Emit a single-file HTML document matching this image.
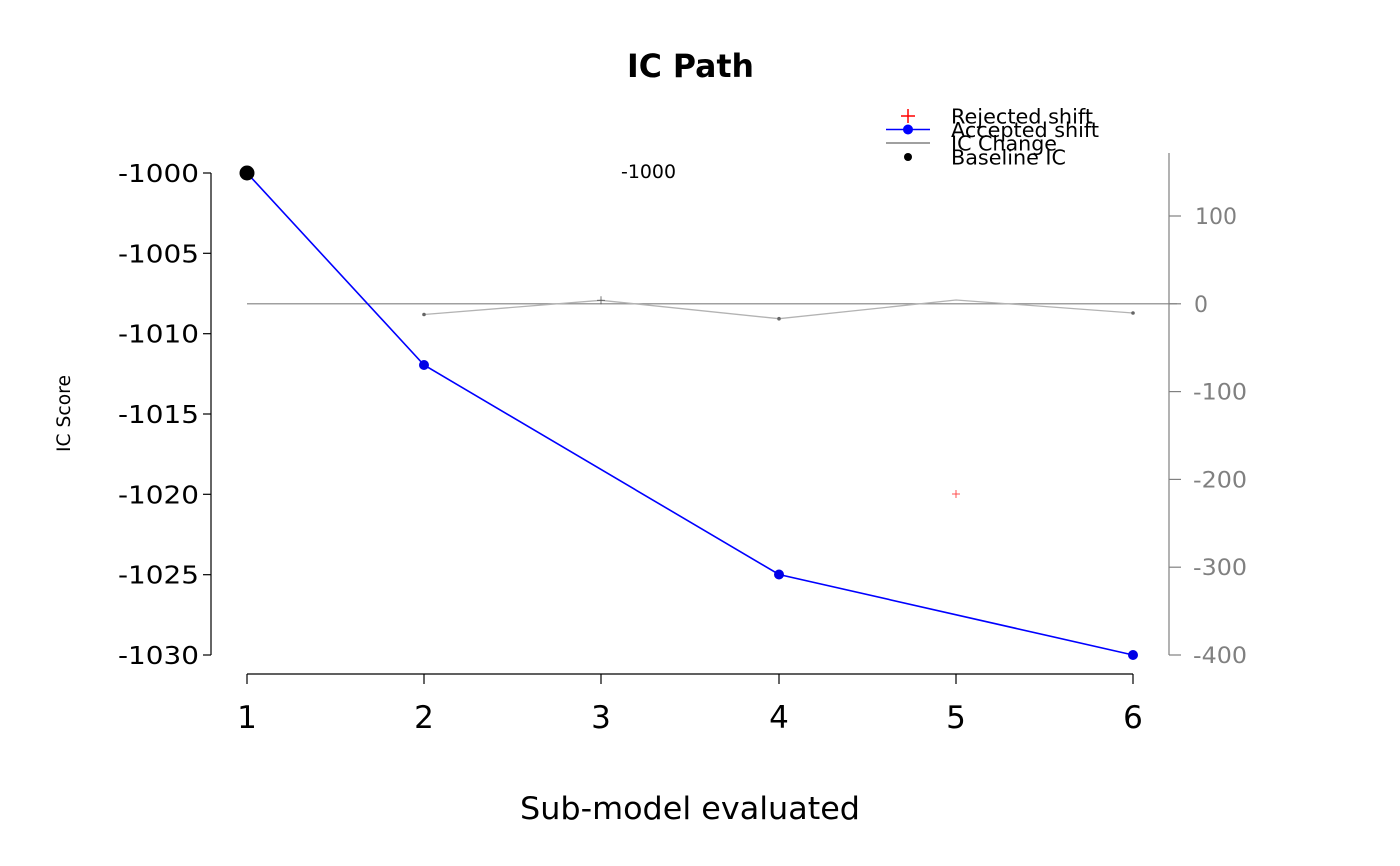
<!DOCTYPE html>
<html><head><meta charset="utf-8"><style>
html,body{margin:0;padding:0;background:#fff}
svg{display:block;font-family:"DejaVu Sans","Liberation Sans",sans-serif}
</style></head><body>
<svg width="1400" height="866" viewBox="0 0 1400 866" xmlns="http://www.w3.org/2000/svg">
<rect width="1400" height="866" fill="#fff"/>
<text x="627" y="77" font-size="32" font-weight="bold" textLength="127" lengthAdjust="spacingAndGlyphs">IC Path</text>
<!-- left axis -->
<line x1="211" y1="173" x2="211" y2="655" stroke="#000" stroke-width="1.2"/>
<g stroke="#000" stroke-width="1.2">
<line x1="203" y1="173" x2="211" y2="173"/><line x1="203" y1="253.3" x2="211" y2="253.3"/>
<line x1="203" y1="333.7" x2="211" y2="333.7"/><line x1="203" y1="414" x2="211" y2="414"/>
<line x1="203" y1="494.3" x2="211" y2="494.3"/><line x1="203" y1="574.7" x2="211" y2="574.7"/>
<line x1="203" y1="655" x2="211" y2="655"/>
</g>
<g font-size="25">
<text x="118" y="182" textLength="81" lengthAdjust="spacingAndGlyphs">-1000</text>
<text x="118" y="262.3" textLength="81" lengthAdjust="spacingAndGlyphs">-1005</text>
<text x="118" y="342.7" textLength="81" lengthAdjust="spacingAndGlyphs">-1010</text>
<text x="118" y="423" textLength="81" lengthAdjust="spacingAndGlyphs">-1015</text>
<text x="118" y="503.3" textLength="81" lengthAdjust="spacingAndGlyphs">-1020</text>
<text x="118" y="583.7" textLength="81" lengthAdjust="spacingAndGlyphs">-1025</text>
<text x="118" y="664" textLength="81" lengthAdjust="spacingAndGlyphs">-1030</text>
</g>
<text transform="translate(70,452) rotate(-90)" font-size="18.5" textLength="77" lengthAdjust="spacingAndGlyphs">IC Score</text>
<!-- bottom axis -->
<line x1="247" y1="674" x2="1133" y2="674" stroke="#000" stroke-width="1.2"/>
<g stroke="#000" stroke-width="1.2">
<line x1="247" y1="674" x2="247" y2="684"/><line x1="424" y1="674" x2="424" y2="684"/>
<line x1="601" y1="674" x2="601" y2="684"/><line x1="779" y1="674" x2="779" y2="684"/>
<line x1="956" y1="674" x2="956" y2="684"/><line x1="1133" y1="674" x2="1133" y2="684"/>
</g>
<g font-size="31" text-anchor="middle">
<text x="247" y="728">1</text><text x="424" y="728">2</text><text x="601" y="728">3</text>
<text x="779" y="728">4</text><text x="956" y="728">5</text><text x="1133" y="728">6</text>
</g>
<text x="520" y="819" font-size="31" textLength="340" lengthAdjust="spacingAndGlyphs">Sub-model evaluated</text>
<!-- right axis -->
<line x1="1169" y1="153" x2="1169" y2="655" stroke="#808080" stroke-width="1.2"/>
<g stroke="#808080" stroke-width="1.2">
<line x1="1169" y1="216" x2="1181" y2="216"/><line x1="1169" y1="303.8" x2="1181" y2="303.8"/>
<line x1="1169" y1="391.6" x2="1181" y2="391.6"/><line x1="1169" y1="479.4" x2="1181" y2="479.4"/>
<line x1="1169" y1="567.2" x2="1181" y2="567.2"/><line x1="1169" y1="655" x2="1181" y2="655"/>
</g>
<g font-size="22" fill="#808080">
<text x="1195" y="224" textLength="42" lengthAdjust="spacingAndGlyphs">100</text>
<text x="1194" y="311.8">0</text>
<text x="1193" y="399.6" textLength="54" lengthAdjust="spacingAndGlyphs">-100</text>
<text x="1193" y="487.4" textLength="54" lengthAdjust="spacingAndGlyphs">-200</text>
<text x="1193" y="575.2" textLength="54" lengthAdjust="spacingAndGlyphs">-300</text>
<text x="1193" y="663" textLength="54" lengthAdjust="spacingAndGlyphs">-400</text>
</g>
<!-- zero line -->
<line x1="247" y1="303.8" x2="1177" y2="303.8" stroke="#808080" stroke-width="1.2"/>
<!-- IC change line -->
<polyline points="424,314.5 601,300.3 779,318.7 956,300 1133,313" fill="none" stroke="#b3b3b3" stroke-width="1.3"/>
<g fill="#666"><circle cx="424" cy="314.5" r="1.8"/><circle cx="779" cy="318.7" r="1.8"/><circle cx="1133" cy="313" r="1.8"/></g>
<g stroke="#555" stroke-width="0.8"><line x1="597" y1="300.3" x2="605" y2="300.3"/><line x1="601" y1="296.3" x2="601" y2="304.3"/></g>
<!-- red rejected -->
<g stroke="#ff4040" stroke-width="0.9"><line x1="952" y1="494" x2="960" y2="494"/><line x1="956" y1="490" x2="956" y2="498"/></g>
<text x="621" y="178" font-size="19" textLength="55" lengthAdjust="spacingAndGlyphs">-1000</text>
<!-- accepted -->
<polyline points="247,173 424,365 779,574.5 1133,655" fill="none" stroke="#0000ff" stroke-width="1.6"/>
<g fill="#0000e6"><circle cx="424" cy="365" r="5"/><circle cx="779" cy="574.5" r="5"/><circle cx="1133" cy="655" r="5"/></g>
<circle cx="247" cy="173" r="7.5" fill="#000"/>
<!-- legend -->
<g stroke="#ff0000" stroke-width="1.5"><line x1="901" y1="116" x2="915" y2="116"/><line x1="908" y1="109" x2="908" y2="123"/></g>
<line x1="886" y1="129.5" x2="930" y2="129.5" stroke="#0000ff" stroke-width="1.6"/>
<circle cx="908" cy="129.5" r="5" fill="#0000ff"/>
<line x1="886" y1="143" x2="930" y2="143" stroke="#808080" stroke-width="1.6"/>
<circle cx="908" cy="157" r="4" fill="#000"/>
<g font-size="20.5">
<text x="951" y="123.5" textLength="142" lengthAdjust="spacingAndGlyphs">Rejected shift</text>
<text x="951" y="137" textLength="148" lengthAdjust="spacingAndGlyphs">Accepted shift</text>
<text x="951" y="150.5" textLength="106" lengthAdjust="spacingAndGlyphs">IC Change</text>
<text x="951" y="164.5" textLength="115" lengthAdjust="spacingAndGlyphs">Baseline IC</text>
</g>
</svg>
</body></html>
